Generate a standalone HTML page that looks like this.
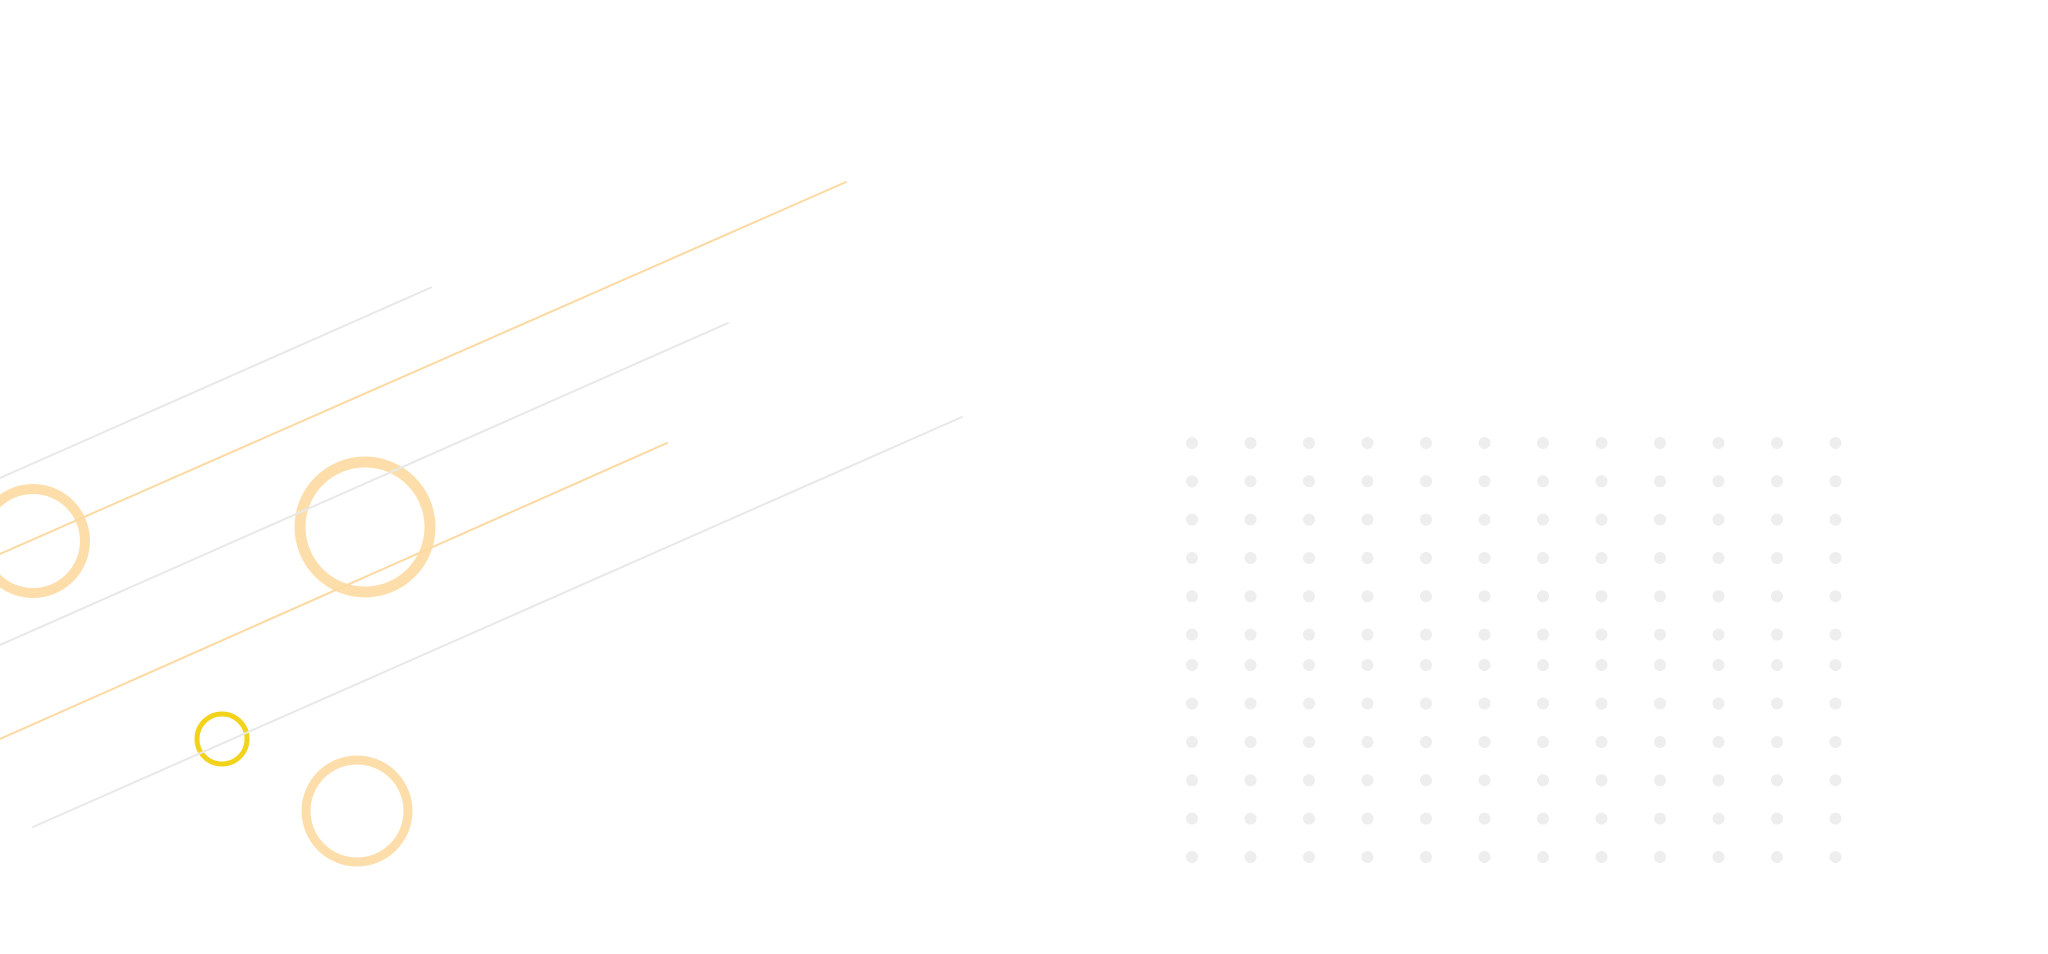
<!DOCTYPE html>
<html><head><meta charset="utf-8"><style>
html,body{margin:0;padding:0;background:#fff;}
svg{display:block;}
</style></head><body>
<svg width="2048" height="954" viewBox="0 0 2048 954" xmlns="http://www.w3.org/2000/svg">
<rect width="2048" height="954" fill="#fff"/>
<g fill="none">
<circle cx="33" cy="541" r="52" stroke="#fddeab" stroke-width="10"/>
<circle cx="365" cy="527" r="65" stroke="#fddeab" stroke-width="11"/>
<circle cx="222" cy="739" r="25" stroke="#f3d21c" stroke-width="5"/>
<circle cx="357" cy="811" r="51" stroke="#fddeab" stroke-width="9"/>
</g>
<g stroke-width="2" stroke-linecap="round">
<line x1="0" y1="478" x2="431" y2="287.5" stroke="#e8e8e8"/>
<line x1="0" y1="554" x2="846" y2="182" stroke="#fdd9a2"/>
<line x1="0" y1="645" x2="728" y2="323" stroke="#e8e8e8"/>
<line x1="0" y1="739" x2="667" y2="443" stroke="#fdd9a2"/>
<line x1="33" y1="827" x2="962" y2="417" stroke="#e8e8e8"/>
</g>
<g fill="#eeeeee" id="dots"></g>
</svg>
<script>
(function(){
var g=document.getElementById('dots');
var rows=[443,481.3,519.6,558,596.3,634.6,665,703.5,742,780.3,818.6,857];
var s='';
for(var r=0;r<rows.length;r++){for(var c=0;c<12;c++){
s+='<circle cx="'+(1192+c*58.5)+'" cy="'+rows[r]+'" r="6"/>';}}
g.innerHTML=s;
})();
</script>
</body></html>
